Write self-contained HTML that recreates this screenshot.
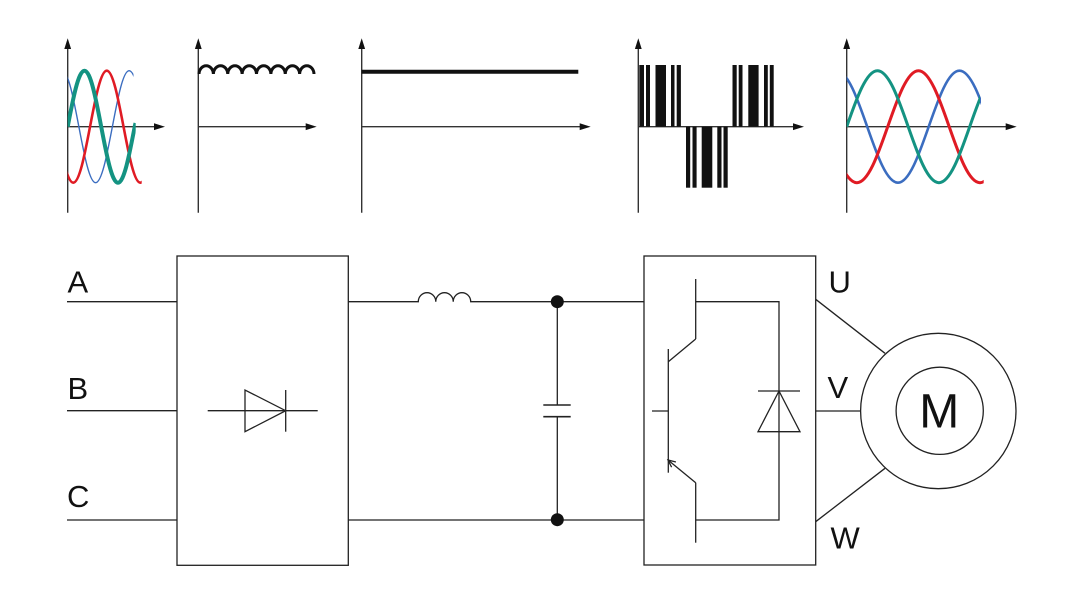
<!DOCTYPE html>
<html>
<head>
<meta charset="utf-8">
<style>
html,body{margin:0;padding:0;background:#fff;}
svg{display:block;}
text{font-family:"Liberation Sans",Arial,sans-serif;fill:#111;}
</style>
</head>
<body>
<svg width="1080" height="600" viewBox="0 0 1080 600" xmlns="http://www.w3.org/2000/svg">
<defs>
<clipPath id="c1r"><rect x="67.7" y="30" width="74" height="180"/></clipPath>
<clipPath id="c1b"><rect x="67.7" y="30" width="65.8" height="180"/></clipPath>
<clipPath id="c1g"><rect x="67.7" y="30" width="68" height="180"/></clipPath>
<clipPath id="c5g"><rect x="846.7" y="30" width="133.3" height="180"/></clipPath>
<clipPath id="c5r"><rect x="846.7" y="30" width="137" height="180"/></clipPath>
<clipPath id="c5b"><rect x="846.7" y="30" width="134.3" height="180"/></clipPath>
</defs>

<!-- ===== Top graphs: axes ===== -->
<g stroke="#333" stroke-width="1.4" fill="none">
  <line x1="67.7" y1="46" x2="67.7" y2="212.7"/>
  <line x1="67.7" y1="126.7" x2="156" y2="126.7"/>
  <line x1="198.3" y1="46" x2="198.3" y2="212.7"/>
  <line x1="198.3" y1="126.7" x2="308" y2="126.7"/>
  <line x1="361.7" y1="46" x2="361.7" y2="212.7"/>
  <line x1="361.7" y1="126.7" x2="582" y2="126.7"/>
  <line x1="638.3" y1="46" x2="638.3" y2="212.7"/>
  <line x1="638.3" y1="126.7" x2="795" y2="126.7"/>
  <line x1="846.7" y1="46" x2="846.7" y2="212.7"/>
  <line x1="846.7" y1="126.7" x2="1008" y2="126.7"/>
</g>
<g fill="#111">
  <polygon points="67.7,38.3 64.3,49 71.1,49"/>
  <polygon points="165,126.7 154,123.3 154,130.1"/>
  <polygon points="198.3,38.3 194.9,49 201.7,49"/>
  <polygon points="316.7,126.7 305.7,123.3 305.7,130.1"/>
  <polygon points="361.7,38.3 358.3,49 365.1,49"/>
  <polygon points="590.7,126.7 579.7,123.3 579.7,130.1"/>
  <polygon points="638.3,38.3 634.9,49 641.7,49"/>
  <polygon points="804,126.7 793,123.3 793,130.1"/>
  <polygon points="846.7,38.3 843.3,49 850.1,49"/>
  <polygon points="1016.7,126.7 1005.7,123.3 1005.7,130.1"/>
</g>

<!-- Graph 1: three-phase input -->
<g fill="none" stroke-linecap="butt">
  <path clip-path="url(#c1b)" stroke="#3b6dc0" stroke-width="1.4"
    d="M62.12,70.7 C68.18,70.7 73.41,98.01 78.87,126.7 C84.33,155.39 89.56,182.7 95.62,182.7 C101.68,182.7 106.91,155.39 112.37,126.7 C117.83,98.01 123.06,70.7 129.12,70.7 C135.18,70.7 140.41,98.01 145.87,126.7"/>
  <path clip-path="url(#c1r)" stroke="#e01b24" stroke-width="2.6"
    d="M56.53,126.7 C61.99,155.39 67.22,182.7 73.28,182.7 C79.34,182.7 84.57,155.39 90.03,126.7 C95.49,98.01 100.72,70.7 106.78,70.7 C112.84,70.7 118.07,98.01 123.53,126.7 C128.99,155.39 134.22,182.7 140.28,182.7 C146.34,182.7 151.57,155.39 157.03,126.7"/>
  <path clip-path="url(#c1g)" stroke="#149382" stroke-width="4"
    d="M67.7,126.7 C73.16,98.01 78.39,70.7 84.45,70.7 C90.51,70.7 95.74,98.01 101.2,126.7 C106.66,155.39 111.89,182.7 117.95,182.7 C124.01,182.7 129.24,155.39 134.7,126.7 L135.5,123"/>
</g>

<!-- Graph 2: ripple -->
<path fill="none" stroke="#111" stroke-width="3"
  d="M199,74 a7.19,8.5 0 0 1 14.375,0 a7.19,8.5 0 0 1 14.375,0 a7.19,8.5 0 0 1 14.375,0 a7.19,8.5 0 0 1 14.375,0 a7.19,8.5 0 0 1 14.375,0 a7.19,8.5 0 0 1 14.375,0 a7.19,8.5 0 0 1 14.375,0 a7.19,8.5 0 0 1 14.375,0"/>

<!-- Graph 3: DC -->
<line x1="361.7" y1="71.7" x2="578.3" y2="71.7" stroke="#111" stroke-width="4"/>

<!-- Graph 4: PWM -->
<g fill="#111">
  <rect x="639.3" y="65" width="4.7" height="61.7"/>
  <rect x="646" y="65" width="4" height="61.7"/>
  <rect x="655.5" y="65" width="10.5" height="61.7"/>
  <rect x="671" y="65" width="3.5" height="61.7"/>
  <rect x="676.7" y="65" width="4.2" height="61.7"/>
  <rect x="686" y="126.7" width="4.2" height="61"/>
  <rect x="692.5" y="126.7" width="4.1" height="61"/>
  <rect x="701.7" y="126.7" width="10.6" height="61"/>
  <rect x="717.3" y="126.7" width="4.2" height="61"/>
  <rect x="723.5" y="126.7" width="4.2" height="61"/>
  <rect x="732.5" y="65" width="4.2" height="61.7"/>
  <rect x="738.7" y="65" width="3.8" height="61.7"/>
  <rect x="748.3" y="65" width="10.3" height="61.7"/>
  <rect x="764" y="65" width="3.8" height="61.7"/>
  <rect x="769.8" y="65" width="3.9" height="61.7"/>
</g>

<!-- Graph 5: three-phase output -->
<g fill="none">
  <path clip-path="url(#c5b)" stroke="#3b6dc0" stroke-width="2.6"
    d="M836.45,70.7 C847.58,70.7 857.17,98.01 867.2,126.7 C877.23,155.39 886.82,182.7 897.95,182.7 C909.08,182.7 918.67,155.39 928.7,126.7 C938.73,98.01 948.32,70.7 959.45,70.7 C970.58,70.7 980.17,98.01 990.2,126.7"/>
  <path clip-path="url(#c5r)" stroke="#e01b24" stroke-width="3"
    d="M826.2,126.7 C836.23,155.39 845.82,182.7 856.95,182.7 C868.08,182.7 877.67,155.39 887.7,126.7 C897.73,98.01 907.32,70.7 918.45,70.7 C929.58,70.7 939.17,98.01 949.2,126.7 C959.23,155.39 968.82,182.7 979.95,182.7 C991.08,182.7 1000.67,155.39 1010.7,126.7"/>
  <path clip-path="url(#c5g)" stroke="#149382" stroke-width="3"
    d="M846.7,126.7 C856.73,98.01 866.32,70.7 877.45,70.7 C888.58,70.7 898.17,98.01 908.2,126.7 C918.23,155.39 927.82,182.7 938.95,182.7 C950.08,182.7 959.67,155.39 969.7,126.7 C979.73,98.01 989.32,70.7 1000.45,70.7"/>
</g>

<!-- ===== Circuit ===== -->
<g stroke="#222" stroke-width="1.3" fill="none">
  <!-- input wires -->
  <line x1="67" y1="301.7" x2="177" y2="301.7"/>
  <line x1="67" y1="410.7" x2="177" y2="410.7"/>
  <line x1="67" y1="520" x2="177" y2="520"/>
  <!-- rectifier box -->
  <rect x="177" y="256" width="171.3" height="309.3"/>
  <!-- rectifier diode -->
  <line x1="207.7" y1="410.7" x2="317.7" y2="410.7"/>
  <polygon points="245,390 245,431.7 285.7,410.7"/>
  <line x1="285.7" y1="390" x2="285.7" y2="431.7"/>
  <!-- DC bus -->
  <path d="M348.3,301.7 H418.3 a8.73,9 0 0 1 17.47,0 a8.73,9 0 0 1 17.47,0 a8.73,9 0 0 1 17.47,0 H644"/>
  <line x1="348.3" y1="520" x2="644" y2="520"/>
  <!-- capacitor -->
  <line x1="557.3" y1="301.7" x2="557.3" y2="405"/>
  <line x1="557.3" y1="416.7" x2="557.3" y2="520"/>
  <line x1="543.3" y1="405" x2="570.7" y2="405" stroke-width="1.6"/>
  <line x1="543.3" y1="416.7" x2="570.7" y2="416.7" stroke-width="1.6"/>
  <!-- inverter box -->
  <rect x="644" y="256" width="171.7" height="309"/>
  <!-- transistor -->
  <line x1="695.7" y1="279" x2="695.7" y2="339"/>
  <line x1="695.7" y1="339" x2="668.3" y2="361.7"/>
  <line x1="668.3" y1="349" x2="668.3" y2="472.7"/>
  <line x1="652" y1="411" x2="668.3" y2="411"/>
  <line x1="668" y1="460" x2="695.7" y2="482.7"/>
  <line x1="695.7" y1="482.7" x2="695.7" y2="542.7"/>
  <polyline points="671.6,467.2 668,460 675.9,462"/>
  <!-- freewheel loop -->
  <polyline points="695.7,301.7 779,301.7 779,520 695.7,520"/>
  <line x1="758" y1="391" x2="800" y2="391"/>
  <polygon points="779,391 758,431.7 800,431.7"/>
  <!-- outputs -->
  <line x1="815.7" y1="299.3" x2="885" y2="353.3"/>
  <line x1="815.7" y1="411" x2="860.7" y2="411"/>
  <line x1="815.7" y1="521.7" x2="885" y2="468.3"/>
  <!-- motor -->
  <circle cx="938.3" cy="411" r="77.7"/>
  <circle cx="939.7" cy="410.8" r="43.6"/>
</g>
<g fill="#111">
  <circle cx="557.3" cy="301.7" r="6.5"/>
  <circle cx="557.3" cy="519.7" r="6.5"/>
</g>

<!-- labels -->
<text x="67.5" y="292.7" font-size="31">A</text>
<text x="67.5" y="399" font-size="31">B</text>
<text x="67" y="507" font-size="31">C</text>
<text x="828.5" y="292.7" font-size="31">U</text>
<text x="827.5" y="398" font-size="31">V</text>
<text x="830.5" y="548.3" font-size="31">W</text>
<text x="939.2" y="427.7" font-size="48" text-anchor="middle">M</text>
</svg>
</body>
</html>
